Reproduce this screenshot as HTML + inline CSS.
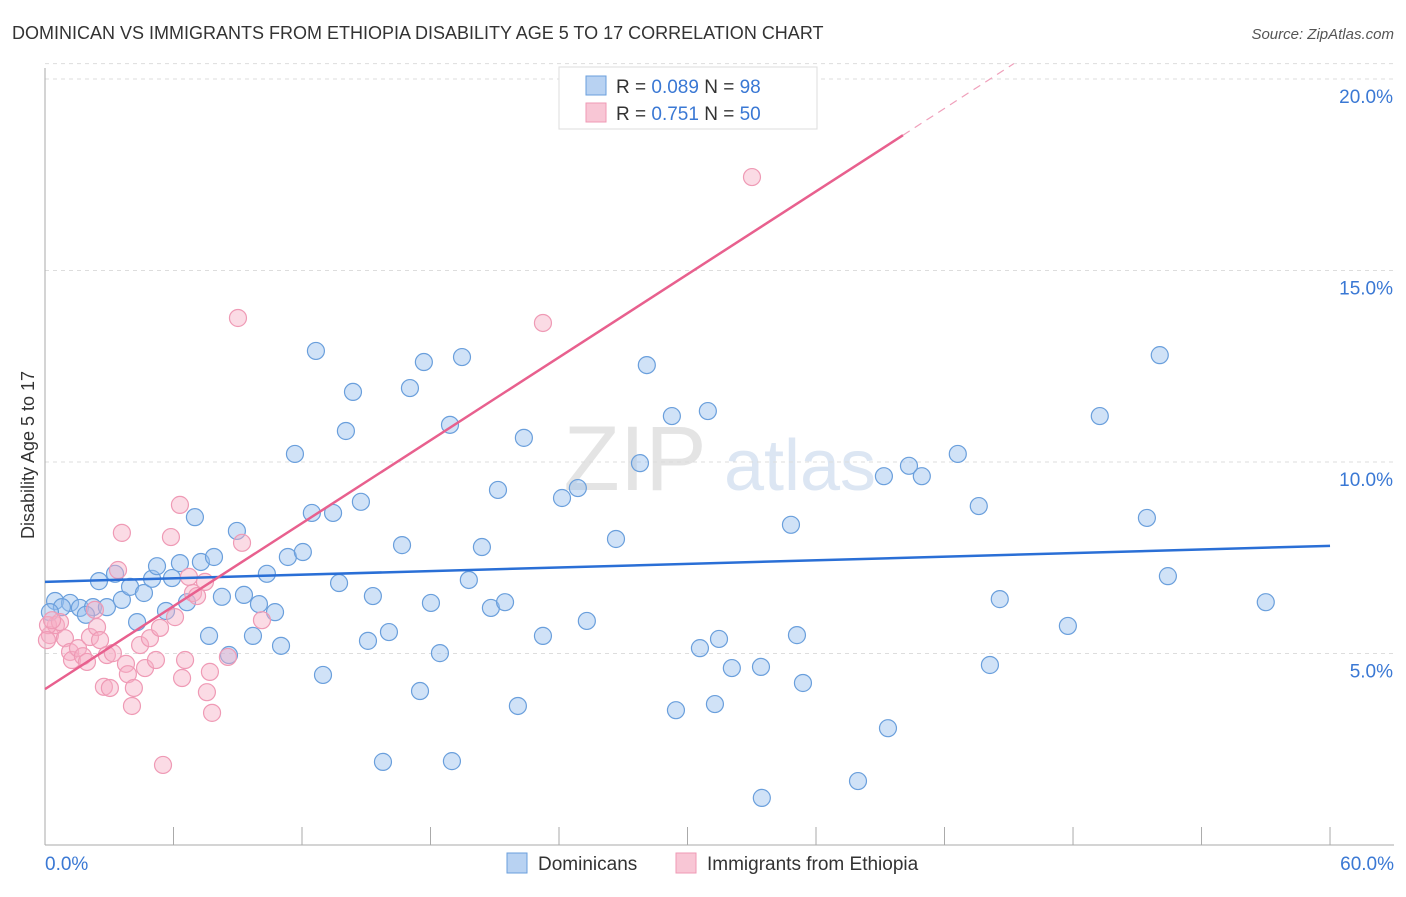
<!DOCTYPE html>
<html><head><meta charset="utf-8"><style>
body{margin:0;background:#fff;font-family:"Liberation Sans",sans-serif;}
svg text{font-family:"Liberation Sans",sans-serif;}
</style></head><body>
<svg id="c" width="1406" height="892" viewBox="0 0 1406 892">
<text x="12" y="39" font-size="18" fill="#333">DOMINICAN VS IMMIGRANTS FROM ETHIOPIA DISABILITY AGE 5 TO 17 CORRELATION CHART</text>
<text x="1394" y="39" font-size="15" fill="#555" font-style="italic" text-anchor="end">Source: ZipAtlas.com</text>
<text x="635" y="490" font-size="92" fill="#e4e4e4" font-family="Liberation Serif" text-anchor="middle">ZIP</text>
<text x="800" y="490" font-size="72" fill="#dce6f3" text-anchor="middle">atlas</text>
<text transform="translate(34,455) rotate(-90)" font-size="18" fill="#333" text-anchor="middle">Disability Age 5 to 17</text>
<g id="grid"></g><g id="pts"></g><g id="lines"></g>
<g>
<rect x="559" y="67" width="258" height="62" fill="#fff" stroke="#ddd"/>
<rect x="586" y="76" width="20" height="19" fill="#b8d2f2" stroke="#6a9fdc"/>
<rect x="586" y="103" width="20" height="19" fill="#f8c6d5" stroke="#ef9ab5"/>
<text x="616" y="93" font-size="19" fill="#333">R = <tspan fill="#3a78d4">0.089</tspan>   N = <tspan fill="#3a78d4">98</tspan></text>
<text x="616" y="120" font-size="19" fill="#333">R =  <tspan fill="#3a78d4">0.751</tspan>   N = <tspan fill="#3a78d4">50</tspan></text>
</g>
<g>
<rect x="507" y="853" width="20" height="20" fill="#b8d2f2" stroke="#6a9fdc"/>
<text x="538" y="870" font-size="19" fill="#333">Dominicans</text>
<rect x="676" y="853" width="20" height="20" fill="#f8c6d5" stroke="#ef9ab5"/>
<text x="707" y="870" font-size="19" fill="#333">Immigrants from Ethiopia</text>
</g>
</svg>
<script>
const xTicks=[0,6,12,18,24,30,36,42,48,54,60];
const yTicks=[5,10,15,20];
const yTickLabels=["5.0%","10.0%","15.0%","20.0%"];
const xTickLabels=["0.0%","60.0%"];
const blueX=[0.47,1.17,0.79,1.63,2.24,1.91,2.89,2.52,3.27,3.59,3.97,4.30,4.62,5.00,5.23,5.65,5.93,6.30,6.63,7.00,7.28,7.66,7.89,8.26,8.59,8.96,9.29,9.71,9.99,10.36,10.74,11.02,11.34,11.67,12.04,12.46,12.65,12.98,13.45,13.73,14.05,14.38,14.75,15.08,15.31,15.78,16.06,16.67,17.04,17.51,17.69,18.02,18.44,18.91,19.00,19.47,19.79,20.40,20.82,21.15,21.48,22.08,22.36,23.25,24.14,24.88,25.30,26.66,27.78,28.10,29.27,29.46,30.58,30.95,31.28,31.47,32.07,33.43,33.47,34.83,35.11,35.39,37.96,39.17,39.36,40.34,40.94,42.62,43.60,44.12,44.58,47.76,49.25,51.45,52.05,52.43,57.00,0.23];
const blueY=[6.37,6.32,6.21,6.19,6.21,6.01,6.21,6.89,7.08,6.40,6.74,5.82,6.58,6.95,7.28,6.11,6.97,7.36,6.34,8.56,7.39,5.46,7.52,6.48,4.96,8.20,6.53,5.46,6.29,7.08,6.08,5.20,7.52,10.21,7.65,8.67,12.90,4.44,8.67,6.84,10.81,11.83,8.96,5.33,6.50,2.17,5.56,7.83,11.93,4.02,12.61,6.32,5.01,10.97,2.19,12.74,6.92,7.78,6.19,9.27,6.34,3.63,10.63,5.46,9.06,9.32,5.85,7.99,9.97,12.53,11.20,3.52,5.14,11.33,3.68,5.38,4.62,4.65,1.23,8.36,5.48,4.23,1.67,9.63,3.05,9.90,9.63,10.21,8.85,4.70,6.42,5.72,11.20,8.54,12.79,7.02,6.34,6.08];
const pinkX=[0.23,0.51,0.14,0.70,0.93,1.17,1.26,1.54,1.77,1.96,2.10,2.33,2.43,2.57,2.75,2.89,3.03,3.17,3.41,3.59,3.78,3.87,4.06,4.15,4.44,4.67,4.90,5.18,5.37,5.51,5.88,6.07,6.30,6.40,6.54,6.72,6.91,7.10,7.47,7.56,7.70,7.80,8.54,9.01,9.20,10.13,23.25,33.01,0.09,0.33];
const pinkY=[5.48,5.74,5.74,5.82,5.40,5.04,4.83,5.14,4.93,4.78,5.43,6.14,5.69,5.35,4.13,4.96,4.10,5.01,7.18,8.15,4.73,4.46,3.63,4.10,5.22,4.62,5.40,4.83,5.67,2.09,8.04,5.95,8.88,4.36,4.83,7.00,6.58,6.50,6.87,3.99,4.52,3.45,4.91,13.76,7.89,5.87,13.63,17.44,5.35,5.87];
const blueLine=[6.87,7.81];
const pinkLine=[4.07,0.361];
const NS="http://www.w3.org/2000/svg";
const X=v=>45+v*21.417, Y=v=>845-v*38.3;
function mk(t,a,p){const e=document.createElementNS(NS,t);for(const k in a)e.setAttribute(k,a[k]);p.appendChild(e);return e;}
const g=document.getElementById('grid');
[...yTicks,20.4].forEach(v=>{const l=mk('line',{x1:45,x2:1394,y1:Y(v),y2:Y(v),stroke:'#ddd','stroke-dasharray':'4,4'},g);

});
yTicks.forEach((v,i)=>{const t=mk('text',{x:1393,y:Y(v)+24,'font-size':19,fill:'#3a78d4','text-anchor':'end'},g);t.textContent=yTickLabels[i];

});
const ax=mk('line',{x1:45,x2:45,y1:68,y2:845,stroke:'#aaa'},g);


const bx=mk('line',{x1:45,x2:1394,y1:845,y2:845,stroke:'#aaa'},g);


xTicks.forEach(v=>{const l=mk('line',{x1:X(v),x2:X(v),y1:827,y2:845,stroke:'#aaa'},g);

});
[[0,'start',45],[60,'end',1394]].forEach((a,i)=>{const t=mk('text',{x:a[2],y:870,'font-size':19,fill:'#3a78d4','text-anchor':a[1]},g);t.textContent=xTickLabels[i];

});
const p=document.getElementById('pts');
blueX.forEach((x,i)=>{const c=mk('circle',{cx:X(x),cy:Y(blueY[i]),r:8.5,fill:'rgba(150,190,238,0.45)',stroke:'#6a9fdc','stroke-width':1.2},p);

});
pinkX.forEach((x,i)=>{const c=mk('circle',{cx:X(x),cy:Y(pinkY[i]),r:8.5,fill:'rgba(246,175,198,0.45)',stroke:'#ef9ab5','stroke-width':1.2},p);

});
const L=document.getElementById('lines');
const b=mk('line',{x1:X(0),y1:Y(blueLine[0]),x2:X(60),y2:Y(blueLine[1]),stroke:'#2a6fd6','stroke-width':2.5},L);


const pe=40.06, pd=(20.4-pinkLine[0])/pinkLine[1];
const pl=mk('line',{x1:X(0),y1:Y(pinkLine[0]),x2:X(pe),y2:Y(pinkLine[0]+pinkLine[1]*pe),stroke:'#e8608e','stroke-width':2.5},L);


const pd2=mk('line',{x1:X(pe),y1:Y(pinkLine[0]+pinkLine[1]*pe),x2:X(pd),y2:Y(20.4),stroke:'#f0a0bb','stroke-width':1.2,'stroke-dasharray':'8,6'},L);


</script>
</body></html>
